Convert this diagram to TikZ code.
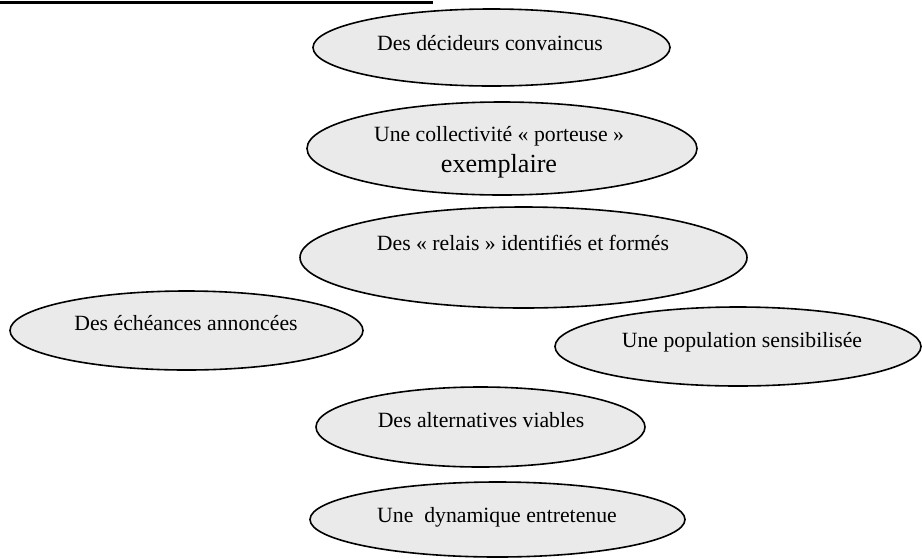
\documentclass[tikz,border=0pt]{standalone}
\usepackage{fontspec}
\setmainfont{Liberation Serif}
\usetikzlibrary{shapes.geometric}

\definecolor{bubblefill}{HTML}{EAEAEA}
\tikzset{
  bubble/.style={ellipse, draw, line width=1.2pt, fill=bubblefill,
    inner sep=0pt, outer sep=0pt},
  caption/.style={inner sep=0pt, align=center,
    font=\fontsize{16.3}{19.5}\selectfont}
}

\begin{document}
\begin{tikzpicture}[x=0.75pt,y=-0.75pt]
  % set the visible area of the figure
  \useasboundingbox (0,0) rectangle (922,558);

  % the underlined title line, cut at the top
  \coordinate (T1) at (0,2.5);
  \coordinate (T2) at (433,2.5);
  \draw [line width=2.2pt] (T1) -- (T2);

  % draw the ellipses first
  \node [bubble, minimum width=267.75pt, minimum height=57.75pt] (dec) at (491.5,47.5) {};
  \node [bubble, minimum width=292.5pt, minimum height=69.75pt] (coll) at (502,148.5) {};
  \node [bubble, minimum width=335.25pt, minimum height=75.75pt] (relais) at (523.5,257.5) {};
  \node [bubble, minimum width=264.75pt, minimum height=59.25pt] (ech) at (186.5,330.5) {};
  \node [bubble, minimum width=274.5pt, minimum height=59.25pt] (popu) at (738,346.5) {};
  \node [bubble, minimum width=246.75pt, minimum height=60pt] (altern) at (480.5,427) {};
  \node [bubble, minimum width=281.25pt, minimum height=56.25pt] (dyn) at (497.5,519.5) {};

  % then the texts, a little above the centres
  \node [caption] (dec-t) at (490,43) {Des décideurs convaincus};
  \node [caption] (coll-t) at (499,152)
    {Une collectivité «~porteuse~»\\[4pt]{\fontsize{19.6}{22}\selectfont exemplaire}};
  \node [caption] (relais-t) at (523,243) {Des «~relais~» identifiés et formés};
  \node [caption] (ech-t) at (186,323) {Des échéances annoncées};
  \node [caption] (popu-t) at (742,342) {Une population sensibilisée};
  \node [caption] (altern-t) at (481,420) {Des alternatives viables};
  \node [caption] (dyn-t) at (497,517) {Une\ \ dynamique entretenue};
\end{tikzpicture}
\end{document}
